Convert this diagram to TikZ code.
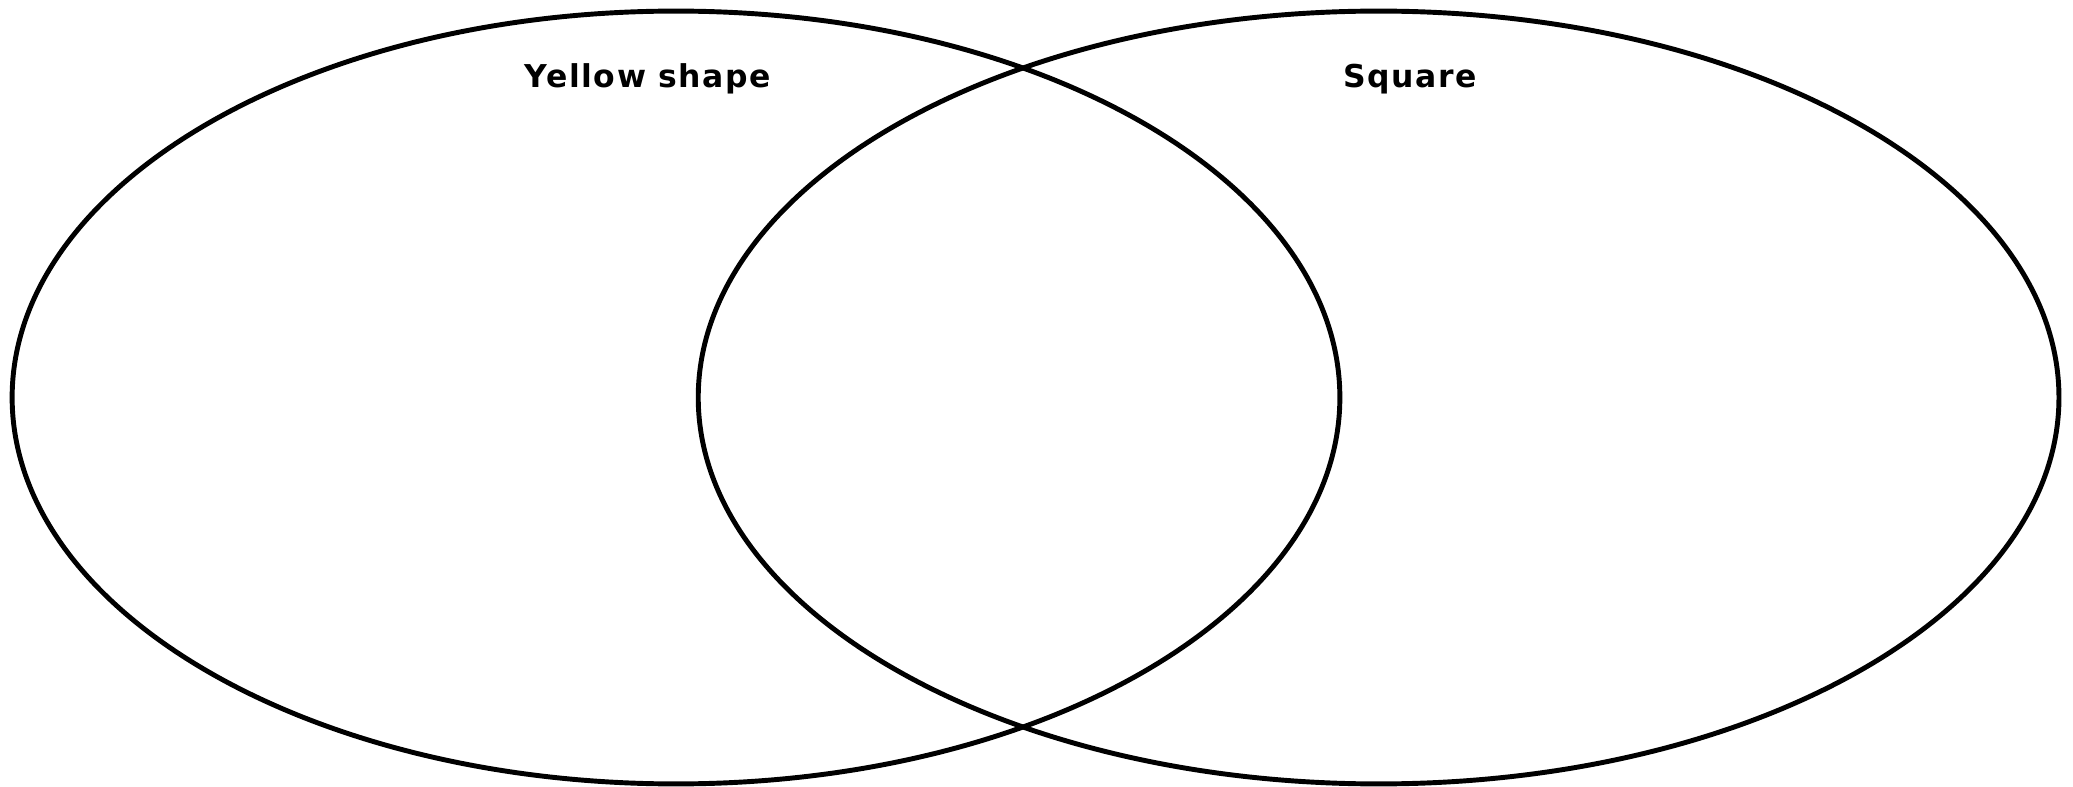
\documentclass[tikz,border=0pt]{standalone}
\usepackage{fontspec}
\setmainfont{Fira Sans}
\newfontfamily\setnamefont[LetterSpace=5]{DejaVu Sans}
\usetikzlibrary{shapes.geometric,positioning}

\begin{document}
\begin{tikzpicture}[
  x=0.02cm, y=-0.02cm,
  setring/.style={draw=black, ellipse, line width=2.8pt, inner sep=0pt,
    minimum height=15.46cm},
  setname/.style={font=\setnamefont\bfseries\fontsize{17.9}{21}\selectfont,
    anchor=base, inner sep=0pt}
]
  \useasboundingbox (0,0) rectangle (2073,787);
  \node[setring, minimum width=26.56cm] (yellow) at (676,397.5) {};
  \node[setring, minimum width=27.22cm] (square) at (1378.6,397.5) {};

  \node[setname] (yellowname) at (648,88) {Yellow shape};
  \node[setname] (squarename) at (1410,88) {Square};
\end{tikzpicture}
\end{document}
